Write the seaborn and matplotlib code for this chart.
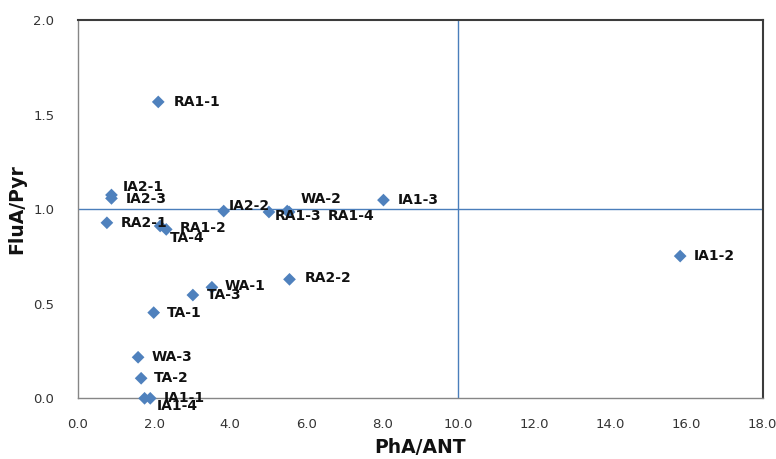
import matplotlib
matplotlib.use("Agg")
import matplotlib.pyplot as plt
import seaborn as sns
import pandas as pd

# Diagnostic ratios per sample
samples = ["RA1-1", "IA2-1", "IA2-3", "IA1-3", "IA2-2", "RA1-3", "WA-2", "RA1-4",
           "RA2-1", "RA1-2", "TA-4", "RA2-2", "WA-1", "TA-3", "TA-1", "WA-3",
           "TA-2", "IA1-1", "IA1-4", "IA1-2"]
pha_ant = [2.11, 0.88, 0.88, 8.03, 3.83, 5.02, 5.50, 5.55,
           0.76, 2.16, 2.32, 5.56, 3.52, 3.02, 1.99, 1.58,
           1.66, 1.90, 1.75, 15.83]
flua_pyr = [1.567, 1.075, 1.057, 1.048, 0.990, 0.985, 0.990, 0.985,
            0.928, 0.911, 0.893, 0.629, 0.587, 0.546, 0.453, 0.217,
            0.106, 0.0, 0.0, 0.752]

x_ticks = [0, 2, 4, 6, 8, 10, 12, 14, 16, 18]
y_ticks = [0.0, 0.5, 1.0, 1.5, 2.0]
x_threshold = 10.0
y_threshold = 1.0

# label placement relative to each marker, in pixels (right, down)
label_offsets = [(15, 0), (11, -8), (14, 1), (14, 0), (5, -5), (6, 4), (13, -12), (39, 4),
                 (14, 0), (20, 2), (4, 9), (15, -1), (13, -1), (14, 0), (13, 0), (13, 0),
                 (13, 0), (13, 0), (12, 8), (14, 0)]

df = pd.DataFrame({"PhA/ANT": pha_ant, "FluA/Pyr": flua_pyr, "sample": samples})

sns.set_style("white")
plt.rcParams["font.family"] = ["DejaVu Sans"]

fig = plt.figure(figsize=(7.76, 4.59), dpi=100)
ax = fig.add_axes([0.1005, 0.1322, 0.8824, 0.8242])

blue = "#4F81BD"
line_blue = "#4A7EBB"

ax.axvline(x_threshold, color=line_blue, lw=1.0, zorder=1)
ax.axhline(y_threshold, color=line_blue, lw=1.0, zorder=1)

sns.scatterplot(data=df, x="PhA/ANT", y="FluA/Pyr", ax=ax, marker="D", s=42,
                color=blue, edgecolor="none", linewidth=0, zorder=3, clip_on=False)

for name, x, y, (dx, dy) in zip(samples, pha_ant, flua_pyr, label_offsets):
    ax.annotate(name, (x, y), xytext=(dx * 0.72, -dy * 0.72), textcoords="offset points",
                ha="left", va="center", fontsize=10, fontweight="bold", color="#111111",
                annotation_clip=False, zorder=4)

ax.set_xlim(0, 18)
ax.set_ylim(0, 2)
ax.set_xticks(x_ticks)
ax.set_xticklabels([f"{v:.1f}" for v in x_ticks])
ax.set_yticks(y_ticks)
ax.set_yticklabels([f"{v:.1f}" for v in y_ticks])

ax.tick_params(axis="both", which="major", direction="out", length=5, width=1,
               color="#868686", labelsize=9.5, labelcolor="#333333")
ax.tick_params(axis="x", pad=9)
ax.tick_params(axis="y", pad=12)

for side in ["left", "bottom"]:
    ax.spines[side].set_color("#868686")
    ax.spines[side].set_linewidth(1.0)
for side in ["top", "right"]:
    ax.spines[side].set_visible(True)
    ax.spines[side].set_color("#3c3c3c")
    ax.spines[side].set_linewidth(1.5)

ax.set_xlabel("PhA/ANT", fontsize=13.5, fontweight="bold", color="#111111", labelpad=5)
ax.set_ylabel("FluA/Pyr", fontsize=13.5, fontweight="bold", color="#111111", labelpad=5)

fig.savefig("out.png", dpi=100, facecolor="white")
